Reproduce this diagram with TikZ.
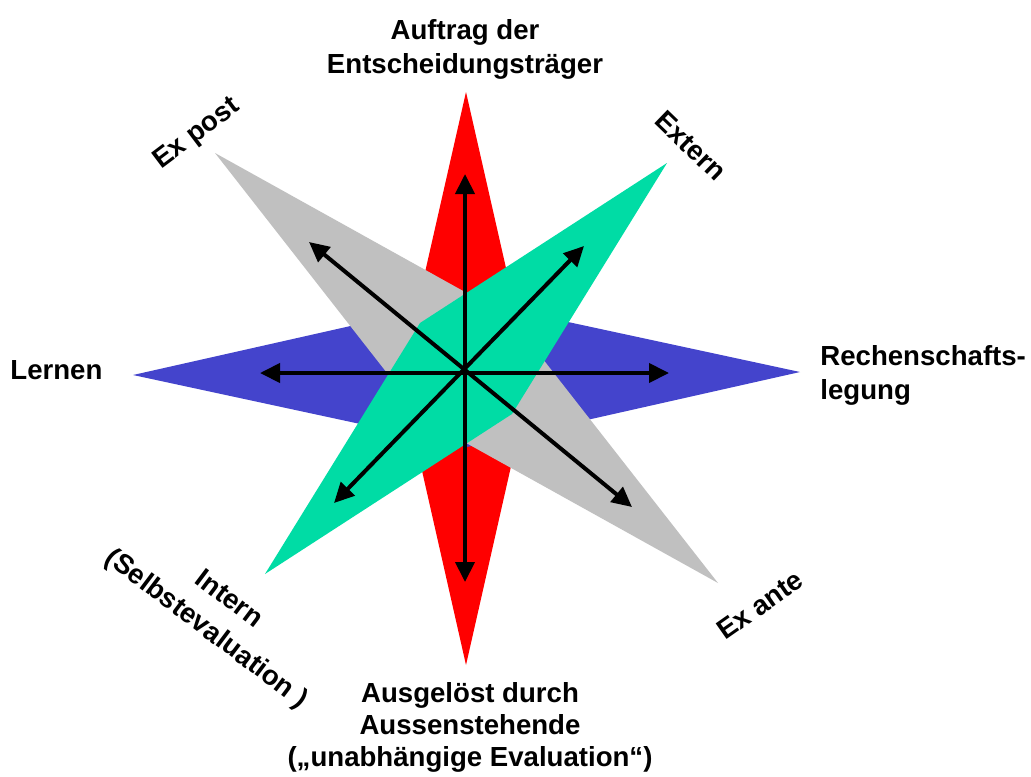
\documentclass[tikz,border=0pt]{standalone}
\usepackage{fontspec}
\setmainfont{Liberation Sans}
\usetikzlibrary{arrows.meta}

\definecolor{starred}{HTML}{FF0000}
\definecolor{starblue}{HTML}{4444CC}
\definecolor{stargray}{HTML}{C0C0C0}
\definecolor{stargreen}{HTML}{00DCA5}

\begin{document}
\begin{tikzpicture}[x=0.5pt,y=-0.5pt,
			>={Triangle[length=10pt,width=9.5pt]},
			lbl/.style={
				inner sep=0pt,
				align=center,
				font=\bfseries\fontsize{13.8}{17}\selectfont},
			axis/.style={<->,line width=2pt}]
			
			\useasboundingbox (0,0) rectangle (1031,776);
			
			% the four points of the star
			\fill[starred](466,92)--(531,378)--(466,665)--(401,378)--cycle;
			
			\fill[starblue](133,375)--(466,300)--(800,372)--(467,447)--cycle;
			
			\fill[stargray](215,153)--(510,317)--(718,583)--(423,419)--cycle;
			
			\fill[stargreen](667,163)--(512,414)--(265,574)--(420,323)--cycle;
			
			% arrow ends
			\coordinate (up) at (465,174);
			\coordinate (down) at (465,582);
			\coordinate (left) at (260,373);
			\coordinate (right) at (669,373);
			\coordinate (ul) at (309,242);
			\coordinate (dr) at (632,507);
			\coordinate (ur) at (584,246);
			\coordinate (dl) at (334,503);
			
			\draw[axis](up)--(down);
			
			\draw[axis](left)--(right);
			
			\draw[axis](ul)--(dr);
			
			\draw[axis](ur)--(dl);
			
			% labels
			\node[lbl] (auftrag) at (465,49){Auftrag der\\Entscheidungsträger};
			
			\node[lbl,rotate=37] (expost) at (197,134){Ex post};
			
			\node[lbl,rotate=-44] (extern) at (691,146){Extern};
			
			\node[lbl,anchor=west] (lernen) at (10,370){Lernen};
			
			\node[lbl,anchor=west,align=left] (rechenschaft) at (820,375){Rechenschafts-\\legung};
			
			\node[lbl,rotate=35] (exante) at (760,605){Ex ante};
			
			\node[lbl,rotate=-37,font=\bfseries\fontsize{13.8}{18.5}\selectfont] (intern) at (217,615){Intern\\(Selbstevaluation )};
			
			\node[lbl,font=\bfseries\fontsize{13.8}{16}\selectfont] (ausgeloest) at (470,727){Ausgelöst durch\\Aussenstehende\\(„unabhängige Evaluation“)};
			
		\end{tikzpicture}
\end{document}
